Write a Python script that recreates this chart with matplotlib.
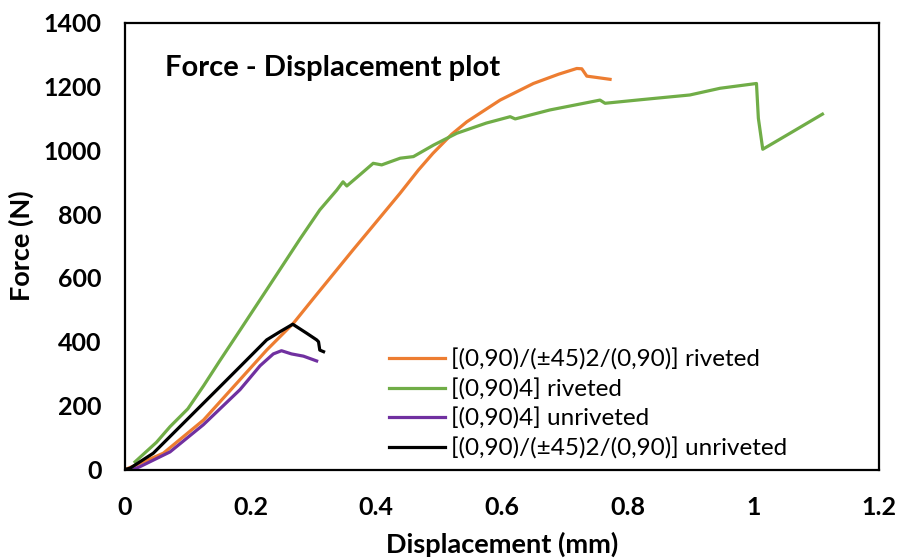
import numpy as np
import matplotlib
matplotlib.use('Agg')
import matplotlib.pyplot as plt

### data
x_orange = [0.0, 0.013, 0.061, 0.125, 0.2255, 0.268, 0.30, 0.363, 0.385, 0.4377, 0.467,
            0.49, 0.52, 0.544, 0.597, 0.65, 0.69, 0.719, 0.727, 0.735, 0.75, 0.772]
y_orange = [0, 10, 51, 155, 374, 458, 536, 688, 740, 865, 938,
            990, 1050, 1089, 1157, 1209, 1238, 1256, 1255, 1232, 1228, 1222]

x_green = [0.016, 0.05, 0.0716, 0.10, 0.125, 0.15, 0.183, 0.2255, 0.2785, 0.31, 0.337, 0.347,
           0.353, 0.375, 0.395, 0.4085, 0.438, 0.459, 0.491, 0.528, 0.575, 0.613, 0.621, 0.676,
           0.756, 0.764, 0.82, 0.899, 0.947, 1.005, 1.008, 1.015, 1.06, 1.11]
y_green = [24, 85, 134, 190, 262, 338, 436, 563, 722, 813, 875, 901,
           888, 925, 959, 954, 975, 980, 1016, 1053, 1085, 1105, 1098, 1126,
           1157, 1147, 1158, 1173, 1194, 1209, 1100, 1003, 1055, 1113]

x_purple = [0.013, 0.024, 0.0716, 0.1246, 0.183, 0.215, 0.236, 0.249, 0.265, 0.284, 0.305]
y_purple = [0, 9, 55, 140, 250, 325, 362, 372, 362, 355, 340]

x_black = [0.0, 0.008, 0.045, 0.098, 0.151, 0.183, 0.2255, 0.247, 0.267, 0.289, 0.305, 0.308,
           0.310, 0.316]
y_black = [0, 4, 51, 155, 259, 322, 406, 432, 455, 427, 406, 400, 374, 369]

labels = ['[(0,90)/(±45)2/(0,90)] riveted', '[(0,90)4] riveted',
          '[(0,90)4] unriveted', '[(0,90)/(±45)2/(0,90)] unriveted']
colors = ['#ED7D31', '#70AD47', '#7030A0', '#000000']

plt.rcParams['font.family'] = ['Lato', 'DejaVu Sans']

fig = plt.figure(figsize=(8.99, 5.6), dpi=100)
ax = fig.add_axes([125/899, 1-469.5/560, 754/899, 447/560])

series = [(x_orange, y_orange), (x_green, y_green), (x_purple, y_purple), (x_black, y_black)]
for (xs, ys), c, lab in zip(series, colors, labels):
    ax.plot(xs, ys, color=c, lw=2.3, label=lab)

ax.set_xlim(0, 1.2)
ax.set_ylim(0, 1400)
ax.set_xticks(np.arange(0, 1.21, 0.2))
ax.set_xticklabels(['0', '0.2', '0.4', '0.6', '0.8', '1', '1.2'])
ax.set_yticks(np.arange(0, 1401, 200))
ax.tick_params(length=0, labelsize=18)
ax.tick_params(axis='x', pad=19)
ax.tick_params(axis='y', pad=17)
for t in ax.get_xticklabels() + ax.get_yticklabels():
    t.set_fontweight('bold')
for s in ax.spines.values():
    s.set_linewidth(1.6)

ax.set_xlabel('Displacement (mm)', fontsize=19.5, fontweight='bold', labelpad=9)
ax.set_ylabel('Force (N)', fontsize=19.5, fontweight='bold', labelpad=7)
ax.text(0.053, 0.898, 'Force - Displacement plot', transform=ax.transAxes,
        fontsize=21, fontweight='bold', va='center', ha='left')

ax.legend(loc='lower left', bbox_to_anchor=(0.337, 0.0), frameon=False, fontsize=17.5,
          handlelength=2.3, handletextpad=0.25, labelspacing=0.32, borderaxespad=0.0)

fig.savefig('out.png', dpi=100)
